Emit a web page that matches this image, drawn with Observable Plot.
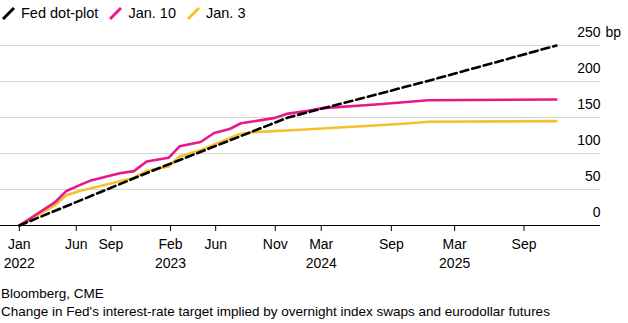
<!DOCTYPE html>
<html>
<head>
<meta charset="utf-8">
<script src="https://cdn.jsdelivr.net/npm/d3@7"></script>
<script src="https://cdn.jsdelivr.net/npm/@observablehq/plot@0.6"></script>
<style>
  body { margin: 0; background: #fff; width: 628px; font-family: "Liberation Sans", Arial, sans-serif; color: #000; }
  #legend { height: 22px; padding-top: 2px; display: flex; align-items: center; font-size: 14.5px; padding-left: 2px; }
  .item { display: flex; align-items: center; margin-right: 11px; }
  .item svg { margin-right: 6px; }
  #foot { font-size: 13.5px; line-height: 18px; padding: 10px 0 0 1px; }
  #chart svg { display: block; }
</style>
</head>
<body>
<div id="legend"></div>
<div id="chart"></div>
<div id="foot">
  <div>Bloomberg, CME</div>
  <div>Change in Fed's interest-rate target implied by overnight index swaps and eurodollar futures</div>
</div>
<script>
// Fed dot-plot path (bp change from Jan 2022)
const dotDates = ["2022-01-01", "2022-12-15", "2023-12-15", "2024-12-15", "2025-11-26"];
const dotValues = [0, 75, 150, 200, 250];

// Market-implied path as of Jan. 10
const jan10Dates = ["2022-01-01", "2022-04-05", "2022-05-06", "2022-06-10", "2022-07-07", "2022-08-29",
  "2022-09-25", "2022-11-01", "2022-12-05", "2023-02-01", "2023-03-02", "2023-04-27", "2023-06-02",
  "2023-07-13", "2023-08-12", "2023-10-01", "2023-11-10", "2023-12-11", "2024-02-02", "2024-03-16",
  "2024-08-04", "2024-12-21", "2025-11-26"];
const jan10Values = [0, 32, 48, 56, 62, 69, 72.5, 75.5, 89, 94, 110, 116, 128.5,
  134, 142, 146, 149.5, 155, 159, 163, 168, 174, 175];

// Market-implied path as of Jan. 3
const jan3Dates = ["2022-01-01", "2022-04-05", "2022-05-06", "2022-06-10", "2022-08-29", "2022-10-31",
  "2022-12-05", "2023-02-01", "2023-03-02", "2023-04-24", "2023-08-09", "2023-09-13", "2024-01-16",
  "2024-06-15", "2024-10-07", "2024-12-21", "2025-11-26"];
const jan3Values = [0, 28, 42, 48, 58, 66, 76, 82, 96, 104, 127, 129.6, 133, 137.5, 141, 144, 145];

// Axis ticks
const xTickDates = ["2022-01-01", "2022-06-01", "2022-09-01", "2023-02-06", "2023-06-06",
  "2023-11-11", "2024-03-12", "2024-09-14", "2025-03-01", "2025-09-01"];
const yTicks = [0, 50, 100, 150, 200, 250];

const series = [
  {name: "Fed dot-plot", color: "#000000", dates: dotDates, values: dotValues},
  {name: "Jan. 10", color: "#e8178a", dates: jan10Dates, values: jan10Values},
  {name: "Jan. 3", color: "#f4c02c", dates: jan3Dates, values: jan3Values}
];

const toRows = (s) => s.dates.map((d, i) => ({date: new Date(d), value: s.values[i]}));
const dot = toRows(series[0]);
const jan10 = toRows(series[1]);
const jan3 = toRows(series[2]);

const xTicks = xTickDates.map(d => new Date(d));
const monthFmt = d3.utcFormat("%b");
const tickLabel = new Map(xTicks.map((d, i) => {
  const first = i === 0 || d.getUTCFullYear() !== xTicks[i - 1].getUTCFullYear();
  return [+d, first ? monthFmt(d) + "\n" + d.getUTCFullYear() : monthFmt(d)];
}));

// Legend
const legend = document.getElementById("legend");
for (const s of series) {
  const item = document.createElement("div");
  item.className = "item";
  item.innerHTML = `<svg width="13" height="13"><line x1="1" y1="12" x2="12" y2="1" stroke="${s.color}" stroke-width="3"/></svg><span>${s.name}</span>`;
  legend.appendChild(item);
}

const chart = Plot.plot({
  width: 628,
  height: 251,
  marginLeft: 0,
  marginRight: 28,
  marginTop: 21,
  marginBottom: 50,
  style: {fontFamily: "'Liberation Sans', Arial, sans-serif", fontSize: "14px", color: "#000", background: "#fff"},
  x: {type: "utc", domain: [new Date("2021-11-12"), new Date("2026-03-23")]},
  y: {domain: [0, 250]},
  marks: [
    Plot.gridY(yTicks.filter(v => v > 0), {stroke: "#d6d6d6", strokeOpacity: 1, strokeWidth: 1}),
    Plot.axisY(yTicks, {anchor: "right", tickSize: 0, tickPadding: 0, textAnchor: "end", dx: 0, dy: -13, label: null, fill: "#000"}),
    Plot.text([{v: 250, t: "bp"}], {y: "v", text: "t", frameAnchor: "right", textAnchor: "start", dx: 5, dy: -13, fill: "#000"}),
    Plot.ruleY([0], {stroke: "#000", strokeWidth: 1}),
    Plot.axisX(xTicks, {tickSize: 6, tickPadding: 5, lineHeight: 1.3, tickFormat: d => tickLabel.get(+d), label: null, fill: "#000"}),
    Plot.line(jan3, {x: "date", y: "value", stroke: series[2].color, strokeWidth: 2.6}),
    Plot.line(jan10, {x: "date", y: "value", stroke: series[1].color, strokeWidth: 2.6}),
    Plot.line(dot, {x: "date", y: "value", stroke: series[0].color, strokeWidth: 2.6, strokeDasharray: "8,4"})
  ]
});
document.getElementById("chart").appendChild(chart);
</script>
</body>
</html>
